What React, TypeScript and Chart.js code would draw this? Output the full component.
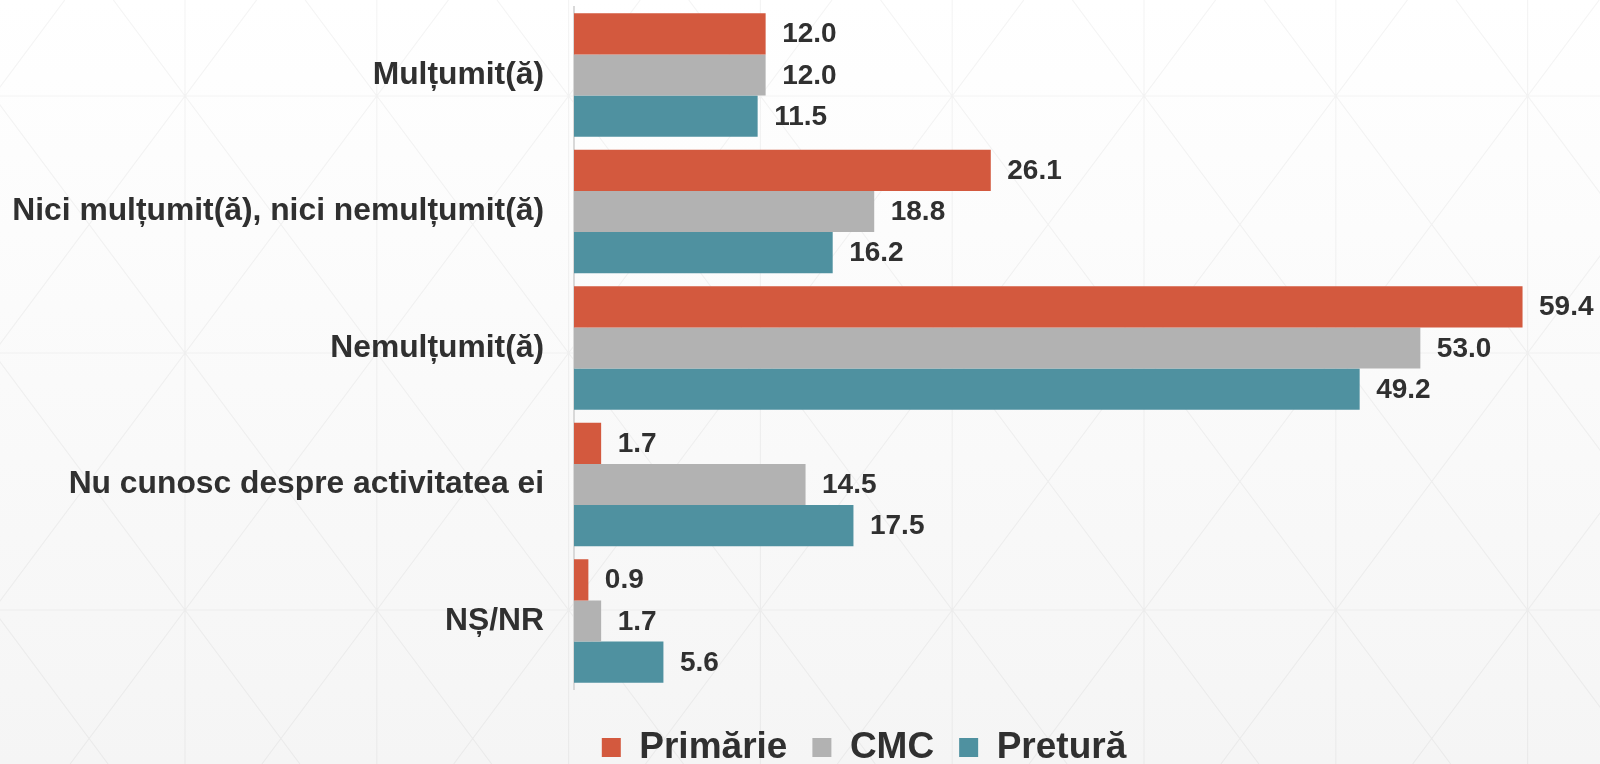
import React, { useEffect, useRef } from 'react';
import { Chart, registerables } from 'chart.js';

Chart.register(...registerables);

const categories = [
  'Mulțumit(ă)',
  'Nici mulțumit(ă), nici nemulțumit(ă)',
  'Nemulțumit(ă)',
  'Nu cunosc despre activitatea ei',
  'NȘ/NR',
];
const seriesNames = ['Primărie', 'CMC', 'Pretură'];
const primarieValues = [12.0, 26.1, 59.4, 1.7, 0.9];
const cmcValues = [12.0, 18.8, 53.0, 14.5, 1.7];
const preturaValues = [11.5, 16.2, 49.2, 17.5, 5.6];
const seriesColors = ['#D3593E', '#B2B2B2', '#4F91A0'];
const xMin = 0;
const xMax = 64;

const FONT = '"Liberation Sans", Arial, Helvetica, sans-serif';
const TEXT = '#303030';

const backgroundPlugin = {
  id: 'bgPattern',
  beforeDraw(chart: any) {
    const { ctx, width, height } = chart;
    ctx.save();
    const g = ctx.createLinearGradient(0, 0, 0, height);
    g.addColorStop(0, '#ffffff');
    g.addColorStop(1, '#f5f5f5');
    ctx.fillStyle = g;
    ctx.fillRect(0, 0, width, height);
    ctx.strokeStyle = 'rgba(0,0,0,0.045)';
    ctx.lineWidth = 1.2;
    const x0 = 185, sx = 191.8, y0 = 96, sy = 257;
    const slope = (sy / 2) / (sx / 2);
    ctx.beginPath();
    for (let x = x0 - sx * 2; x < width + sx; x += sx) {
      ctx.moveTo(x, 0);
      ctx.lineTo(x, height);
    }
    for (let y = y0 - sy; y < height + sy; y += sy) {
      ctx.moveTo(0, y);
      ctx.lineTo(width, y);
    }
    for (let k = -10; k < 20; k++) {
      const px = x0 + k * sx;
      ctx.moveTo(px - y0 / slope, 0);
      ctx.lineTo(px + (height - y0) / slope, height);
      ctx.moveTo(px + y0 / slope, 0);
      ctx.lineTo(px - (height - y0) / slope, height);
    }
    ctx.stroke();
    ctx.restore();
  },
};

// shift the bottom legend horizontally so it sits where the original one does
const legendShiftPlugin = {
  id: 'legendShift',
  afterLayout(chart: any) {
    const lg = chart.legend;
    if (lg) {
      lg.left += 66;
      lg.right += 66;
    }
  },
};

const valueLabelPlugin = {
  id: 'valueLabels',
  afterDatasetsDraw(chart: any) {
    const { ctx } = chart;
    ctx.save();
    ctx.font = `bold 28px ${FONT}`;
    ctx.fillStyle = TEXT;
    ctx.textAlign = 'left';
    ctx.textBaseline = 'middle';
    chart.data.datasets.forEach((ds: any, i: number) => {
      const meta = chart.getDatasetMeta(i);
      meta.data.forEach((bar: any, j: number) => {
        const v = ds.data[j] as number;
        ctx.fillText(v.toFixed(1), bar.x + 16.5, bar.y + 1);
      });
    });
    ctx.restore();
  },
};

export default function App() {
  const canvasRef = useRef<HTMLCanvasElement | null>(null);

  useEffect(() => {
    const canvas = canvasRef.current;
    if (!canvas) return;
    const seriesValues = [primarieValues, cmcValues, preturaValues];
    const chart = new Chart(canvas, {
      type: 'bar',
      data: {
        labels: categories,
        datasets: seriesNames.map((name, i) => ({
          label: name,
          data: seriesValues[i],
          backgroundColor: seriesColors[i],
          borderWidth: 0,
          barPercentage: 1,
          categoryPercentage: 0.906,
        })),
      },
      options: {
        indexAxis: 'y',
        responsive: false,
        animation: false,
        devicePixelRatio: 1,
        layout: { padding: { top: 6.75, bottom: -12, left: 0, right: 4 } },
        scales: {
          x: {
            min: xMin,
            max: xMax,
            ticks: { display: false },
            grid: { display: false },
            border: { display: false },
            afterFit: (s: any) => {
              s.height = 14.75;
            },
          },
          y: {
            ticks: {
              color: TEXT,
              padding: 30,
              font: { family: FONT, size: 31.8, weight: 'bold' },
            },
            grid: { display: false, drawTicks: false },
            border: { display: true, color: '#d9d9d9', width: 2 },
            afterFit: (s: any) => {
              s.width = 574;
              s.paddingTop = 0;
              s.paddingBottom = 0;
            },
          },
        },
        plugins: {
          legend: {
            position: 'bottom',
            labels: {
              boxWidth: 19,
              boxHeight: 19,
              padding: 25,
              color: TEXT,
              font: { family: FONT, size: 37, weight: 'bold' },
            },
          },
          tooltip: { enabled: false },
        },
      } as any,
      plugins: [backgroundPlugin, legendShiftPlugin, valueLabelPlugin],
    });
    return () => chart.destroy();
  }, []);

  return (
    <div style={{ position: 'absolute', left: 0, top: 0, width: 1600, height: 764 }}>
      <canvas ref={canvasRef} width={1600} height={764} style={{ width: 1600, height: 764, display: 'block' }} />
    </div>
  );
}
